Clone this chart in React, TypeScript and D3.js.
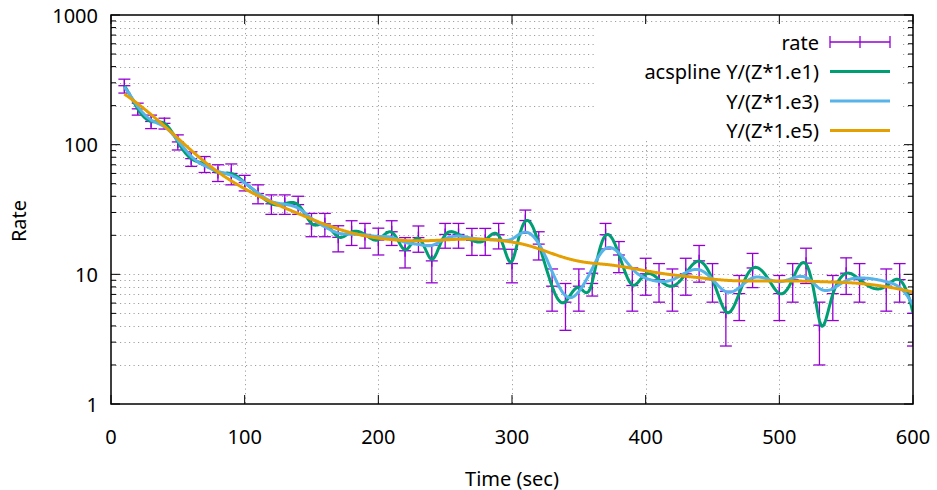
import React from 'react';
import * as d3 from 'd3';

const WIDTH = 937;
const HEIGHT = 490;

const timeValues = [10, 20, 30, 40, 50, 60, 70, 80, 90, 100, 110, 120, 130, 140, 150, 160, 170, 180, 190, 200,
  210, 220, 230, 240, 250, 260, 270, 280, 290, 300, 310, 320, 330, 340, 350, 360, 370, 380, 390, 400,
  410, 420, 430, 440, 450, 460, 470, 480, 500, 510, 520, 530, 540, 550, 560, 580, 590, 600];
const rateValues = [285, 189, 151, 146, 105, 78, 71, 61, 60, 51, 42, 35, 35, 34.5, 24.5, 24.5, 19.3, 21.3, 20.3, 18.4,
  21.3, 15.2, 19.2, 12.7, 20.3, 20.3, 18.3, 18.3, 20.2, 12.1, 26, 17.1, 8.1, 6.1, 8.1, 8.5, 20.2, 14.1, 8.2, 10.1,
  9.1, 8.1, 10.1, 12.7, 9.1, 5.1, 7.1, 11.2, 7.1, 9.1, 12.2, 4.05, 7.1, 10.2, 9.1, 8.1, 9.1, 5.0];
const errorValues = [35, 20, 18, 14, 14, 10, 10, 9, 11, 7, 7, 6, 6, 5.5, 5, 5, 4.4, 4.6, 4.4, 4.3,
  4.6, 4, 4.4, 4.1, 4.4, 4.4, 4.3, 4.3, 4.5, 3.5, 5.3, 4.2, 2.9, 2.4, 2.9, 1.7, 4.5, 3.8, 3, 3.2,
  3, 2.9, 3.2, 4, 3, 2.3, 2.7, 3.3, 2.7, 3, 3.7, 2.05, 2.7, 3.2, 3, 2.9, 3, 2.2];

const smoothDivisors = [1e1, 1e3, 1e5];
const seriesLabels = ['rate', 'acspline Y/(Z*1.e1)', 'Y/(Z*1.e3)', 'Y/(Z*1.e5)'];
const seriesColors = ['#9400d3', '#009e73', '#56b4e9', '#e69f00'];

const xTicks = [0, 100, 200, 300, 400, 500, 600];
const yTicks = [1, 10, 100, 1000];

const FONT = '"Noto Sans", "Open Sans", sans-serif';

function solve(A: number[][], b: number[]): number[] {
  const n = b.length;
  const M = A.map((r, i) => [...r, b[i]]);
  for (let c = 0; c < n; c++) {
    let p = c;
    for (let r = c + 1; r < n; r++) if (Math.abs(M[r][c]) > Math.abs(M[p][c])) p = r;
    [M[c], M[p]] = [M[p], M[c]];
    for (let r = c + 1; r < n; r++) {
      const f = M[r][c] / M[c][c];
      if (f === 0) continue;
      for (let k = c; k <= n; k++) M[r][k] -= f * M[c][k];
    }
  }
  const x = new Array(n).fill(0);
  for (let r = n - 1; r >= 0; r--) {
    let s = M[r][n];
    for (let k = r + 1; k < n; k++) s -= M[r][k] * x[k];
    x[r] = s / M[r][r];
  }
  return x;
}

function smoothingSpline(xs: number[], ys: number[], ws: number[], alpha: number) {
  const n = xs.length;
  const h: number[] = [];
  for (let i = 0; i < n - 1; i++) h.push(xs[i + 1] - xs[i]);
  const m = n - 2;
  const Q = Array.from({ length: n }, () => new Array(m).fill(0));
  const R = Array.from({ length: m }, () => new Array(m).fill(0));
  for (let j = 0; j < m; j++) {
    const k = j + 1;
    Q[k - 1][j] = 1 / h[k - 1];
    Q[k][j] = -1 / h[k - 1] - 1 / h[k];
    Q[k + 1][j] = 1 / h[k];
    R[j][j] = (h[k - 1] + h[k]) / 3;
    if (j + 1 < m) {
      R[j][j + 1] = h[k] / 6;
      R[j + 1][j] = h[k] / 6;
    }
  }
  const A = R.map((r) => r.slice());
  for (let a = 0; a < m; a++) {
    for (let b = Math.max(0, a - 2); b < Math.min(m, a + 3); b++) {
      let s = 0;
      for (let i = 0; i < n; i++) s += (Q[i][a] * Q[i][b]) / ws[i];
      A[a][b] += alpha * s;
    }
  }
  const rhs = new Array(m).fill(0);
  for (let a = 0; a < m; a++) {
    let s = 0;
    for (let i = 0; i < n; i++) s += Q[i][a] * ys[i];
    rhs[a] = s;
  }
  const gam = solve(A, rhs);
  const g = ys.map((y, i) => {
    let s = 0;
    for (let a = 0; a < m; a++) s += Q[i][a] * gam[a];
    return y - (alpha * s) / ws[i];
  });
  const gamma = [0, ...gam, 0];
  return (t: number) => {
    let i = 0;
    while (i < n - 2 && t > xs[i + 1]) i++;
    const d = h[i];
    const a = t - xs[i];
    const b = xs[i + 1] - t;
    return (a * g[i + 1] + b * g[i]) / d - (a * b / 6) * ((1 + a / d) * gamma[i + 1] + (1 + b / d) * gamma[i]);
  };
}

export default function App() {
  const left = 111, right = 913, top = 15, bottom = 404;
  const x = d3.scaleLinear().domain([0, 600]).range([left, right]);
  const y = d3.scaleLog().domain([1, 1000]).range([bottom, top]);

  const minorY: number[] = [];
  for (const d of [1, 10, 100]) for (let k = 2; k <= 9; k++) minorY.push(d * k);

  const curves = smoothDivisors.map((c) => {
    const ws = rateValues.map((v, i) => v / (errorValues[i] * c));
    const f = smoothingSpline(timeValues, rateValues, ws, 1);
    const pts: [number, number][] = [];
    const t0 = timeValues[0], t1 = timeValues[timeValues.length - 1];
    for (let t = t0; t <= t1 + 1e-9; t += 0.5) pts.push([t, Math.max(0.5, f(t))]);
    return pts;
  });
  const line = d3.line<[number, number]>().x((d) => x(d[0])).y((d) => y(d[1]));

  const gridColor = '#a0a0a0';
  const gridDash = '1.2,3.3';
  const fs = 20;

  const keyRows = [42, 71.5, 101, 130.5];
  const keyTextX = 819;
  const keyS0 = 830, keyS1 = 890;

  return (
    <svg width={WIDTH} height={HEIGHT} style={{ position: 'absolute', left: 0, top: 0, background: '#fff' }}
      fontFamily={FONT}>
      <rect x={0} y={0} width={WIDTH} height={HEIGHT} fill="#fff" />
      <defs>
        <clipPath id="plotclip">
          <rect x={left} y={top} width={right - left} height={bottom - top} />
        </clipPath>
      </defs>
      <g stroke={gridColor} strokeWidth={1} strokeDasharray={gridDash}>
        {[...yTicks, ...minorY].filter((v) => v > 1 && v < 1000).map((v) => (
          <line key={'gy' + v} x1={left} x2={right} y1={Math.round(y(v)) + 0.5} y2={Math.round(y(v)) + 0.5} />
        ))}
        {xTicks.filter((v) => v > 0 && v < 600).map((v) => (
          <line key={'gx' + v} x1={Math.round(x(v)) + 0.5} x2={Math.round(x(v)) + 0.5} y1={top} y2={bottom} />
        ))}
      </g>
      <rect x={597} y={24} width={306} height={117} fill="#fff" />
      <g stroke="#000" strokeWidth={1}>
        {yTicks.map((v) => (
          <g key={'ty' + v}>
            <line x1={left} x2={left + 9} y1={y(v)} y2={y(v)} />
            <line x1={right} x2={right - 9} y1={y(v)} y2={y(v)} />
          </g>
        ))}
        {minorY.map((v) => (
          <g key={'tmy' + v}>
            <line x1={left} x2={left + 5} y1={y(v)} y2={y(v)} />
            <line x1={right} x2={right - 5} y1={y(v)} y2={y(v)} />
          </g>
        ))}
        {xTicks.map((v) => (
          <g key={'tx' + v}>
            <line x1={x(v)} x2={x(v)} y1={bottom} y2={bottom - 9} />
            <line x1={x(v)} x2={x(v)} y1={top} y2={top + 9} />
          </g>
        ))}
      </g>
      <g clipPath="url(#plotclip)">
        <g stroke={seriesColors[0]} strokeWidth={1.3} fill="none">
          {timeValues.map((t, i) => {
            const cx = x(t);
            const v = rateValues[i], e = errorValues[i];
            const yt = y(v + e), yb = y(v - e), yc = y(v);
            return (
              <g key={'eb' + i}>
                <line x1={cx} x2={cx} y1={yt} y2={yb} />
                <line x1={cx - 6} x2={cx + 6} y1={yt} y2={yt} />
                <line x1={cx - 6} x2={cx + 6} y1={yb} y2={yb} />
                <line x1={cx - 6} x2={cx + 6} y1={yc} y2={yc} />
                <line x1={cx} x2={cx} y1={yc - 6} y2={yc + 6} />
              </g>
            );
          })}
        </g>
        {curves.map((pts, k) => (
          <path key={'c' + k} d={line(pts) || ''} fill="none" stroke={seriesColors[k + 1]} strokeWidth={3}
            strokeLinejoin="round" />
        ))}
      </g>
      <rect x={left} y={top} width={right - left} height={bottom - top} fill="none" stroke="#000" strokeWidth={1.5} />
      <g fontSize={fs} fill="#000">
        {yTicks.map((v) => (
          <text key={'ly' + v} x={98} y={y(v)} textAnchor="end" dominantBaseline="central">{v}</text>
        ))}
        {xTicks.map((v) => (
          <text key={'lx' + v} x={x(v)} y={436} textAnchor="middle" dominantBaseline="central">{v}</text>
        ))}
        <text x={512} y={478} textAnchor="middle" dominantBaseline="central">Time (sec)</text>
        <text transform={`translate(18,221) rotate(-90)`} textAnchor="middle" dominantBaseline="central">Rate</text>
      </g>
      <g fontSize={fs} fill="#000">
        {seriesLabels.map((s, i) => (
          <text key={'k' + i} x={keyTextX} y={keyRows[i]} textAnchor="end" dominantBaseline="central">{s}</text>
        ))}
      </g>
      <g stroke={seriesColors[0]} strokeWidth={1.3}>
        <line x1={keyS0} x2={keyS1} y1={keyRows[0]} y2={keyRows[0]} />
        <line x1={keyS0} x2={keyS0} y1={keyRows[0] - 6} y2={keyRows[0] + 6} />
        <line x1={keyS1} x2={keyS1} y1={keyRows[0] - 6} y2={keyRows[0] + 6} />
        <line x1={(keyS0 + keyS1) / 2} x2={(keyS0 + keyS1) / 2} y1={keyRows[0] - 6} y2={keyRows[0] + 6} />
      </g>
      {[1, 2, 3].map((k) => (
        <line key={'ks' + k} x1={keyS0} x2={keyS1} y1={keyRows[k]} y2={keyRows[k]} stroke={seriesColors[k]} strokeWidth={3} />
      ))}
    </svg>
  );
}
